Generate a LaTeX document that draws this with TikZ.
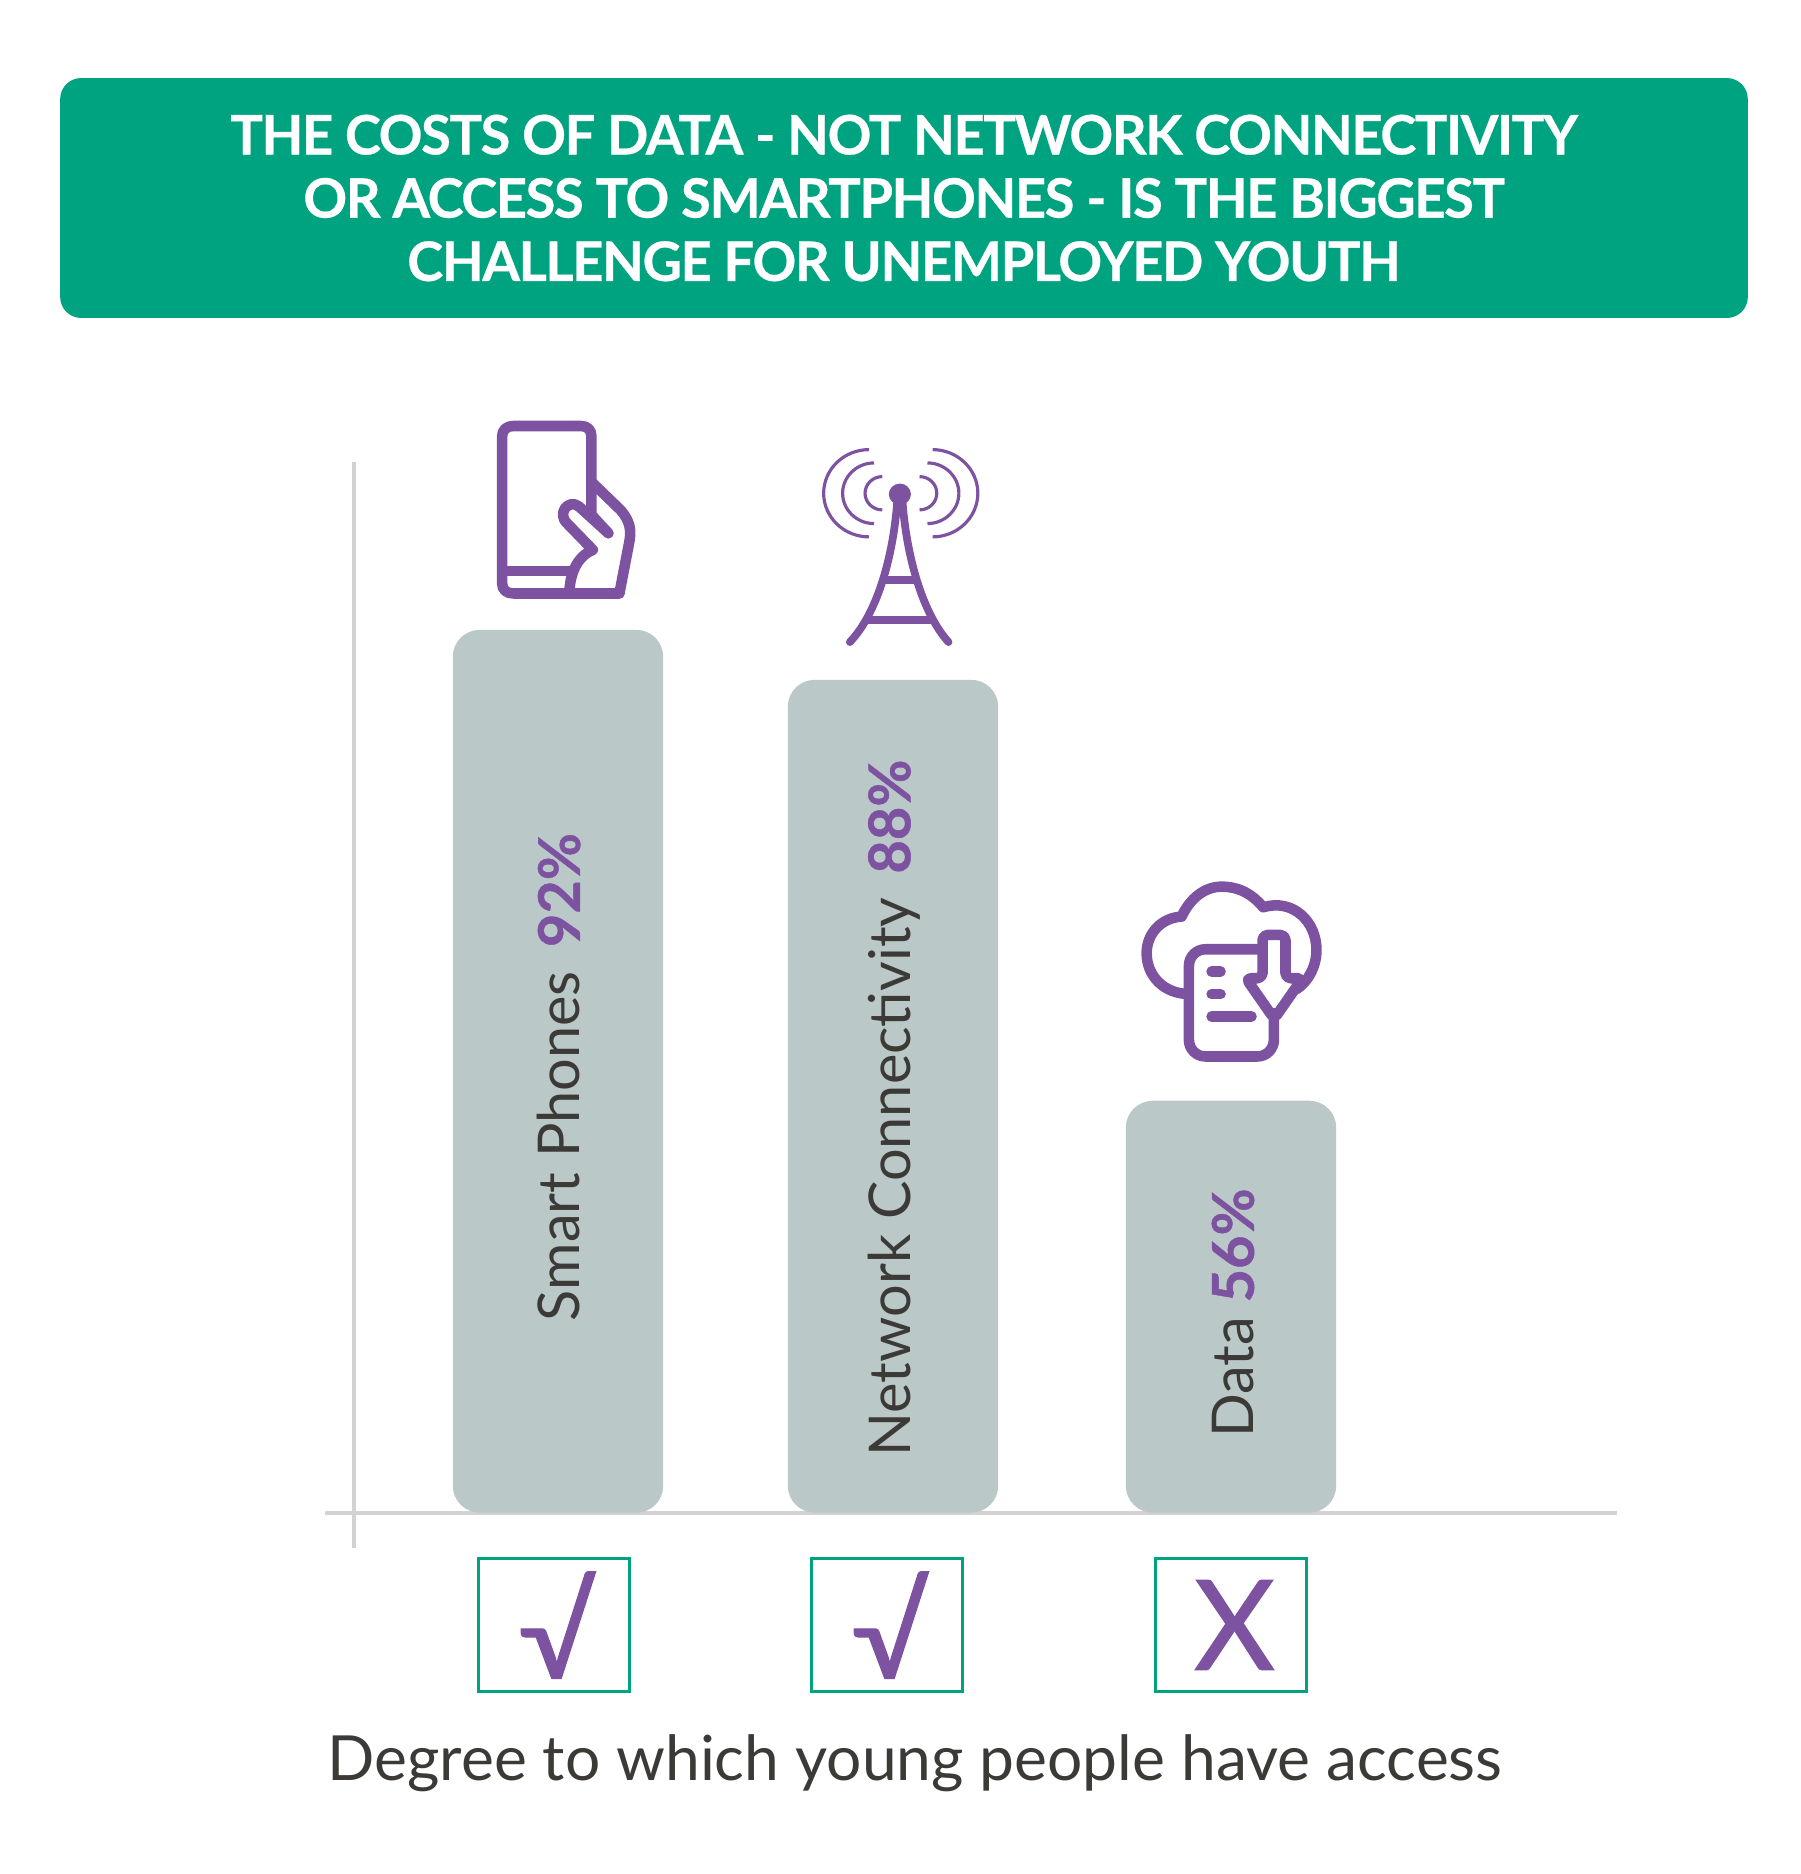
\documentclass[tikz,border=0pt]{standalone}
\usepackage{fontspec}
\setmainfont{Lato}
\newfontfamily\titlefont[LetterSpace=-2.6,FakeBold=.5]{Lato}
\newfontfamily\markfont[FakeBold=1]{Lato}
\newfontfamily\pctfont[FakeBold=.8]{Lato}
\definecolor{bannergreen}{HTML}{00A37F}
\definecolor{iconpurple}{HTML}{7D52A0}
\definecolor{bargrey}{HTML}{BAC8C8}
\definecolor{textgrey}{HTML}{3C3A37}
\definecolor{axisgrey}{HTML}{D2D2D2}
\begin{document}
\begin{tikzpicture}[x=0.02cm,y=-0.02cm,
  bar/.style={fill=bargrey,rounded corners=.54cm,minimum width=4.21cm,inner sep=0pt,anchor=south},
  barlabel/.style={rotate=90,text=textgrey,inner sep=0pt,font=\fontsize{32.8}{40}\selectfont},
  markbox/.style={draw=bannergreen,line width=2.2pt,minimum width=3.02cm,minimum height=2.66cm,inner sep=0pt,text=iconpurple,font=\markfont\fontsize{71}{80}\selectfont},
  icon/.style={draw=iconpurple,line width=6pt,line join=round,line cap=round},
  wave/.style={draw=iconpurple,line width=1.8pt},
  axis/.style={draw=axisgrey,line width=2pt}]
\useasboundingbox (0,0) rectangle (1801,1874);
% banner
\node [fill=bannergreen,rounded corners=.42cm,minimum width=33.76cm,minimum height=4.8cm,inner sep=0pt,text=white,align=center,font=\titlefont\fontsize{30.9}{36}\selectfont\bfseries, name=banner] at (904,198)
 {THE COSTS OF DATA - NOT NETWORK CONNECTIVITY\\OR ACCESS TO SMARTPHONES - IS THE BIGGEST\\CHALLENGE FOR UNEMPLOYED YOUTH};
% axes
\coordinate (ytop) at (354,462);
\coordinate (ybot) at (354,1548);
\coordinate (xleft) at (325,1513);
\coordinate (xright) at (1617,1513);
\draw [axis] (ytop) -- (ybot);
\draw [axis] (xleft) -- (xright);
% bars
\node [bar, minimum height=17.66cm, name=bar1] at (558,1513){};
\node [bar, minimum height=16.66cm, name=bar2] at (893,1513){};
\node [bar, minimum height=8.24cm, name=bar3] at (1231,1513){};
\node [barlabel, name=lab1] at (559,1077) {Smart Phones\hspace{.42em}{\pctfont\bfseries\color{iconpurple}92\%}};
\node [barlabel, name=lab2] at (894,1108) {Network Connectivity\hspace{.42em}{\pctfont\bfseries\color{iconpurple}88\%}};
\node [barlabel, name=lab3] at (1233,1313) {Data {\pctfont\bfseries\color{iconpurple}56\%}};
% access marks
\node [markbox, name=mark1] at (554,1625){\hspace{4pt}√};
\node [markbox, name=mark2] at (887,1625){\hspace{4pt}√};
\node [markbox, name=mark3] at (1231,1625){\hspace{4pt}X};
\node [text=textgrey,inner sep=0pt,anchor=base,font=\fontsize{35.45}{42}\selectfont, name=caption] at (915,1780) {Degree to which young people have access};
% phone icon
\begin{scope}[shift={(460,400)},xscale=.345,yscale=.333]
\draw [icon] (381,345) -- (381,110) .. controls (381,90) and (370,78) .. (350,78) -- (155,78) .. controls (135,78) and (122,90) .. (122,110) -- (122,550) .. controls (122,570) and (135,581) .. (155,581) -- (462,581);
\draw [icon] (385,250) -- (465,330) .. controls (495,365) and (497,395) .. (490,430) -- (462,581);
\draw [icon,line cap=butt] (122,513) -- (325,513);
\draw [icon] (430,400) -- (345,320) .. controls (315,295) and (280,340) .. (310,370) -- (385,450) .. controls (340,470) and (318,520) .. (317,581);
\draw [icon] (381,345) -- (430,400);
\end{scope}
% tower icon
\begin{scope}[shift={(460,400)},xscale=.345,yscale=.333]
\fill [iconpurple] (1275,283) circle (32);
\draw [icon,line width=4.4pt] (1130,727) .. controls (1210,640) and (1255,470) .. (1267,310);
\draw [icon,line width=4.4pt] (1416,727) .. controls (1340,640) and (1295,470) .. (1283,310);
\draw [icon,line width=4.6pt,line cap=butt] (1228,540) -- (1318,540);
\draw [icon,line width=4.6pt,line cap=butt] (1182,660) -- (1368,660);
\foreach \c/\r in {1185/131,1200/91,1224/50}
  \draw [wave] (\c,280-\r) .. controls (\c-0.55*\r,280-\r) and (\c-\r,280-0.55*\r) .. (\c-\r,280) .. controls (\c-\r,280+0.55*\r) and (\c-0.55*\r,280+\r) .. (\c,280+\r);
\foreach \c/\r in {1370/131,1355/91,1332/50}
  \draw [wave] (\c,280-\r) .. controls (\c+0.55*\r,280-\r) and (\c+\r,280-0.55*\r) .. (\c+\r,280) .. controls (\c+\r,280+0.55*\r) and (\c+0.55*\r,280+\r) .. (\c,280+\r);
\end{scope}
% data icon
\begin{scope}[shift={(1120,870)},scale=.333]
\draw [icon] (205,372) .. controls (135,372) and (80,320) .. (80,250) .. controls (80,190) and (125,143) .. (185,140) .. controls (210,85) and (255,50) .. (305,50) .. controls (360,50) and (400,75) .. (430,112) .. controls (520,85) and (590,155) .. (590,240) .. controls (590,290) and (565,335) .. (530,358);
\draw [icon,rounded corners=.33cm] (428,238) -- (207,238) -- (207,560) -- (462,560) -- (462,430);
\draw [icon,rounded corners=.1cm] (428,325) -- (428,195) -- (497,195) -- (497,325) -- (548,325) -- (463,447) -- (378,325) -- cycle;
\draw [icon] (275,305) -- (302,305);
\draw [icon] (275,373) -- (302,373);
\draw [icon] (275,440) -- (395,440);
\end{scope}
\end{tikzpicture}
\end{document}
